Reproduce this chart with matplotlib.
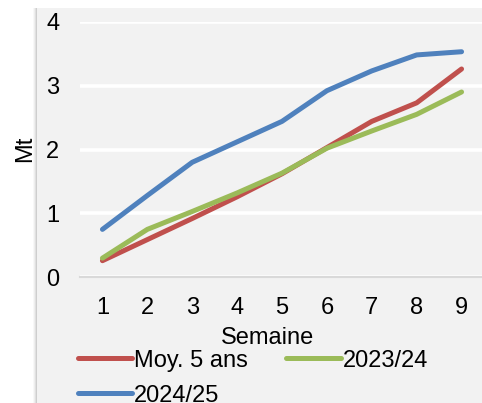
import matplotlib
matplotlib.use('Agg')
import matplotlib.pyplot as plt
from matplotlib.patches import Rectangle

plt.rcParams['font.family'] = ['Liberation Sans', 'DejaVu Sans']

# cumulative volumes (Mt) by week
semaines = [1, 2, 3, 4, 5, 6, 7, 8, 9]
moy_5_ans = [0.26, 0.59, 0.92, 1.26, 1.62, 2.03, 2.44, 2.73, 3.26]
campagne_2023_24 = [0.30, 0.75, 1.03, 1.32, 1.63, 2.02, 2.29, 2.55, 2.90]
campagne_2024_25 = [0.75, 1.28, 1.80, 2.12, 2.44, 2.92, 3.23, 3.48, 3.53]

series = [
    ('Moy. 5 ans', moy_5_ans, '#C0504D'),
    ('2023/24', campagne_2023_24, '#9BBB59'),
    ('2024/25', campagne_2024_25, '#4F81BD'),
]

W, H = 482, 403
FS = 17
fig = plt.figure(figsize=(W / 100, H / 100), dpi=100)
fig.patch.set_facecolor('white')

# grey chart panel with a soft shadow on its left edge
px0, py0 = 37 / W, 8 / H
for i, a in enumerate([0.05, 0.08, 0.12, 0.18]):
    fig.patches.append(Rectangle((px0 - (4 - i) / W, 0), (4 - i) / W, 1 - py0,
                                 transform=fig.transFigure, facecolor='#7f7f7f',
                                 alpha=a, edgecolor='none', zorder=-2))
fig.patches.append(Rectangle((px0, 0), 1 - px0, 1 - py0, transform=fig.transFigure,
                             facecolor='#f2f2f2', edgecolor='none', zorder=-1))

ax = fig.add_axes([80 / W, 1 - 277.3 / H, 404 / W, (277.3 - 21.7) / H])
ax.set_facecolor('none')

for label, values, color in series:
    ax.plot(semaines, values, color=color, linewidth=3.6, solid_capstyle='round',
            label=label, zorder=3)

ax.set_xlim(0.5, 9.5)
ax.set_ylim(0, 4)
ax.set_xticks(semaines)
ax.set_yticks([0, 1, 2, 3, 4])
ax.grid(axis='y', color='white', linewidth=2.6, zorder=1)
ax.set_axisbelow(True)
for side in ['top', 'right', 'left']:
    ax.spines[side].set_visible(False)
ax.spines['bottom'].set_color('#d9d9d9')
ax.spines['bottom'].set_linewidth(1.5)
ax.spines['bottom'].set_zorder(2)
ax.tick_params(axis='both', length=0, labelsize=FS, colors='black')
ax.tick_params(axis='x', pad=14)
ax.tick_params(axis='y', pad=15)

fig.text(268 / W, 1 - 338 / H, 'Semaine', ha='center', va='center', fontsize=FS)
fig.text(25 / W, 1 - 149 / H, 'Mt', ha='center', va='center', rotation=90, fontsize=FS)

# legend filled column-wise: Moy / 2024/25 in the first column, 2023/24 in the second
h, l = ax.get_legend_handles_labels()
order = [0, 2, 1]
fig.legend([h[i] for i in order], [l[i] for i in order], ncol=2, loc='upper left',
           bbox_to_anchor=(61 / W, 1 - 333 / H), frameon=False, fontsize=FS,
           handlelength=2.3, handletextpad=0.1, columnspacing=1.62,
           labelspacing=0.55, borderpad=0.2)

fig.savefig('out.png', dpi=100)
